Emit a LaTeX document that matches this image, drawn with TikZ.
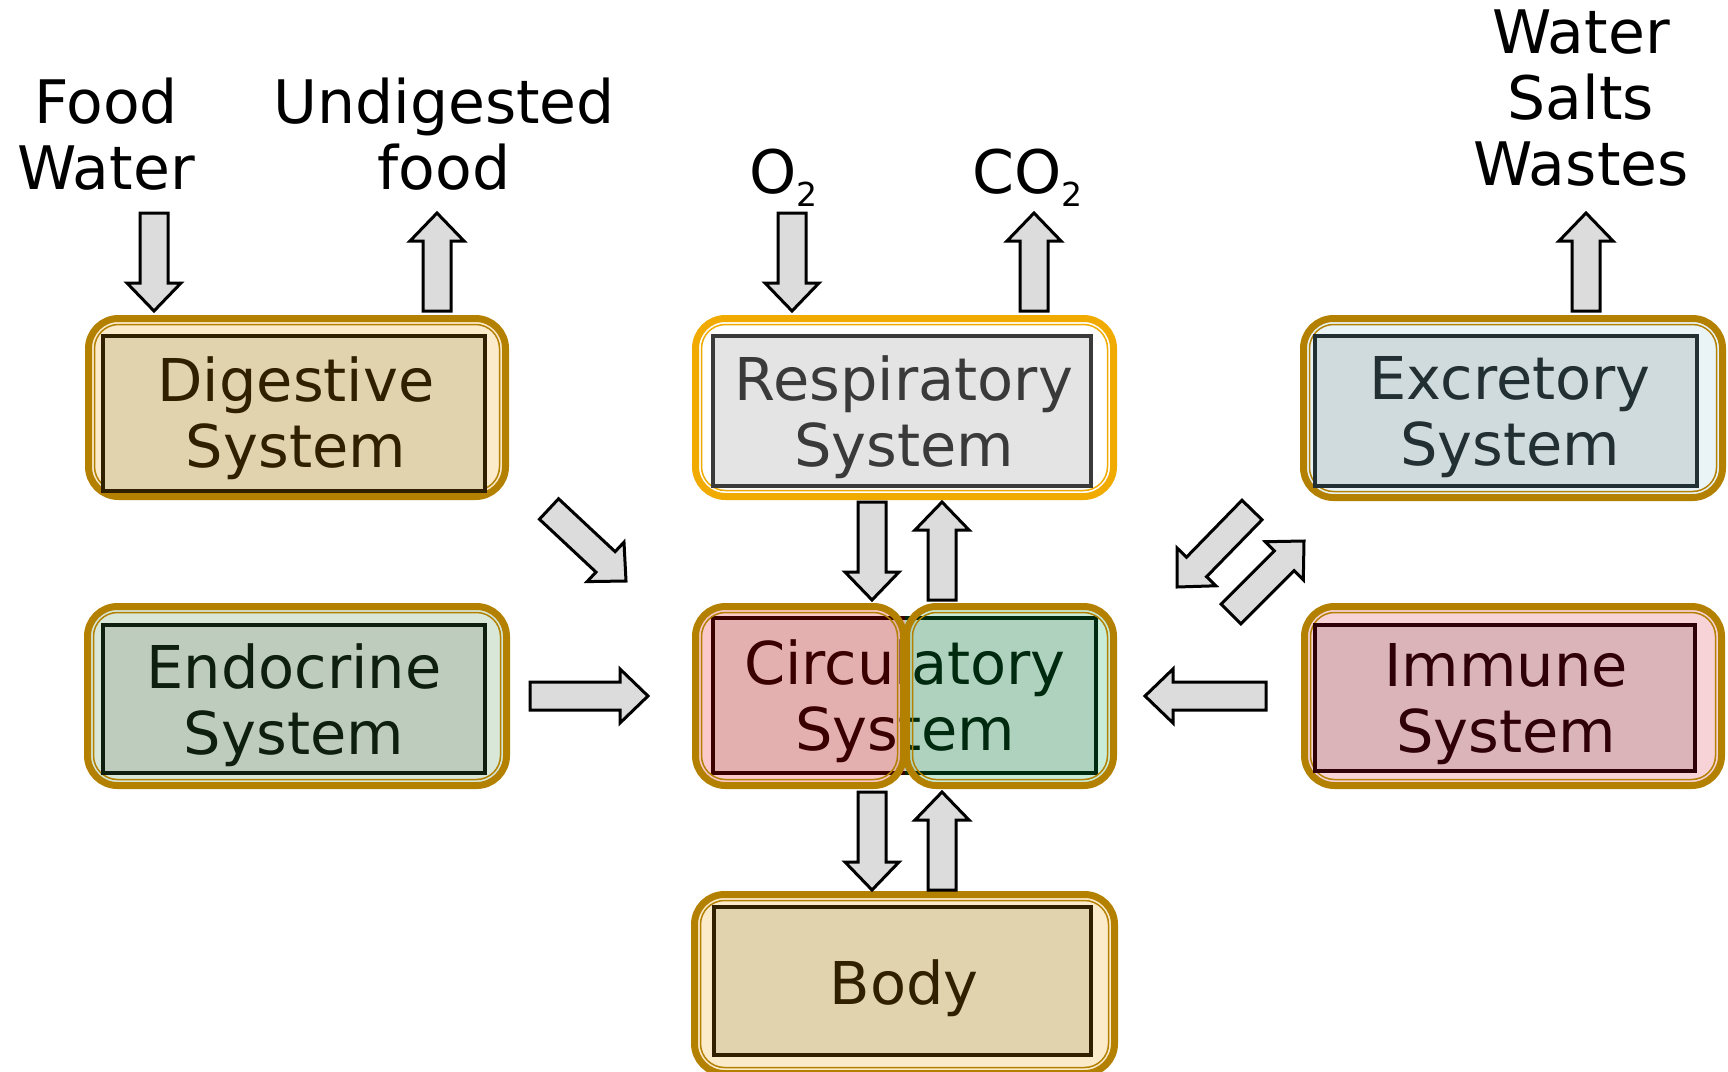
\documentclass[tikz,border=0pt]{standalone}
\usepackage{fontspec}
\setmainfont{DejaVu Sans}
\usetikzlibrary{calc}
\definecolor{gold}{HTML}{B38000}
\definecolor{orng}{HTML}{F0AA00}
\definecolor{arrgray}{HTML}{DCDCDC}
\definecolor{tanbg}{HTML}{FCEBCB}
\definecolor{tanin}{HTML}{E0D3AE}
\definecolor{tanbd}{HTML}{302000}
\definecolor{resin}{HTML}{E4E4E4}
\definecolor{resbd}{HTML}{3A3A3A}
\definecolor{endbg}{HTML}{D8E7D8}
\definecolor{endin}{HTML}{BDCCBD}
\definecolor{endbd}{HTML}{0F1F0F}
\definecolor{excbg}{HTML}{EAF4F6}
\definecolor{excin}{HTML}{D0DBDD}
\definecolor{excbd}{HTML}{233033}
\definecolor{immbg}{HTML}{F7D3D7}
\definecolor{immin}{HTML}{DBB4B9}
\definecolor{immbd}{HTML}{300008}
\definecolor{cLbg}{HTML}{FBC9C9}
\definecolor{cLin}{HTML}{E4AFAF}
\definecolor{cLbd}{HTML}{3A0000}
\definecolor{cRbg}{HTML}{C8ECD8}
\definecolor{cRin}{HTML}{AED2BE}
\definecolor{cRbd}{HTML}{002A10}
\newcommand\ringstroke[2]{%
  \draw[ringline, draw=#2] (#1.north west) rectangle (#1.south east);
  \draw[thinline, draw=#2] ([shift={(6,6)}]#1.north west) rectangle ([shift={(-6,-6)}]#1.south east);}
\newcommand\blockarrow[3]{%
  \coordinate (#3h) at ($(#2)!14pt!(#1)$);
  \draw[blockarr] ($(#1)!7pt!90:(#2)$) -- ($(#3h)!7pt!-90:(#1)$) -- ($(#3h)!13.5pt!-90:(#1)$) -- (#2)
    -- ($(#3h)!13.5pt!90:(#1)$) -- ($(#3h)!7pt!90:(#1)$) -- ($(#1)!7pt!-90:(#2)$) -- cycle;}
\begin{document}
\begin{tikzpicture}[x=0.5pt,y=-0.5pt,
  ringbg/.style={rounded corners=15pt, inner sep=0pt, outer sep=0pt, draw=none},
  ringline/.style={line width=3.5pt, rounded corners=15pt},
  thinline/.style={line width=0.75pt, rounded corners=12pt},
  inbox/.style={inner sep=0pt, outer sep=0pt, line width=2pt},
  boxlabel/.style={align=center, inner sep=0pt, font=\fontsize{29.5pt}{33pt}\selectfont},
  toplabel/.style={align=center, inner sep=0pt, text=black, font=\fontsize{30pt}{33pt}\selectfont},
  blockarr/.style={fill=arrgray, draw=black, line width=1.5pt, line join=miter}]
\fill[white] (0,0) rectangle (1728,1071);
\useasboundingbox (0,0) rectangle (1728,1071);

% ---------- Digestive
\node[ringbg, fill=tanbg, minimum width=208.5pt, minimum height=89pt] (dig) at (297,407.5) {};
\ringstroke{dig}{gold}
\node[inbox, fill=tanin, draw=tanbd, minimum width=191pt, minimum height=77.5pt] (digin) at (294,413.5) {};
\node[boxlabel, text=tanbd] (digtxt) at (296,418.5) {Digestive\\System};

% ---------- Respiratory
\node[ringbg, fill=white, minimum width=209pt, minimum height=89pt] (res) at (904.5,407.5) {};
\ringstroke{res}{orng}
\node[inbox, fill=resin, draw=resbd, minimum width=189pt, minimum height=75pt] (resin) at (902,411) {};
\node[boxlabel, text=resbd] (restxt) at (904,417) {Respiratory\\System};

% ---------- Excretory
\node[ringbg, fill=excbg, minimum width=209.5pt, minimum height=89.5pt] (exc) at (1513,408) {};
\ringstroke{exc}{gold}
\node[inbox, fill=excin, draw=excbd, minimum width=191pt, minimum height=75pt] (excin) at (1506,411) {};
\node[boxlabel, text=excbd] (exctxt) at (1510,417) {Excretory\\System};

% ---------- Endocrine
\node[ringbg, fill=endbg, minimum width=209.5pt, minimum height=89.5pt] (end) at (297,696) {};
\ringstroke{end}{gold}
\node[inbox, fill=endin, draw=endbd, minimum width=191pt, minimum height=74pt] (endin) at (294,699) {};
\node[boxlabel, text=endbd] (endtxt) at (294,705) {Endocrine\\System};

% ---------- Immune
\node[ringbg, fill=immbg, minimum width=208.5pt, minimum height=89.5pt] (imm) at (1513,696) {};
\ringstroke{imm}{gold}
\node[inbox, fill=immin, draw=immbd, minimum width=190pt, minimum height=73pt] (immin) at (1505,698) {};
\node[boxlabel, text=immbd] (immtxt) at (1506,704.5) {Immune\\System};

% ---------- Body
\node[ringbg, fill=tanbg, minimum width=210pt, minimum height=89.5pt] (body) at (904.5,984) {};
\ringstroke{body}{gold}
\node[inbox, fill=tanin, draw=tanbd, minimum width=188.5pt, minimum height=74pt] (bodyin) at (902.5,981) {};
\node[boxlabel, text=tanbd] (bodytxt) at (904,988.5) {Body};

% ---------- Circulatory (two halves)
\node[ringbg, fill=cLbg, minimum width=104pt, minimum height=89.5pt] (circL) at (799.5,696) {};
\node[ringbg, fill=cRbg, minimum width=103.5pt, minimum height=89.5pt] (circR) at (1010,696) {};
\begin{scope}
  \clip (600,580) rectangle (905,810);
  \node[inbox, fill=cLin, draw=cLbd, minimum width=191.5pt, minimum height=77.5pt] (circinL) at (904.5,695.5) {};
  \node[boxlabel, text=cLbd] (circtxtL) at (905,701) {Circulatory\\System};
\end{scope}
\begin{scope}
  \clip (905,580) rectangle (1200,810);
  \node[inbox, fill=cRin, draw=cRbd, minimum width=191.5pt, minimum height=77.5pt] (circinR) at (904.5,695.5) {};
  \node[boxlabel, text=cRbd] (circtxtR) at (905,701) {Circulatory\\System};
\end{scope}
\ringstroke{circL}{gold}
\ringstroke{circR}{gold}

% ---------- Top labels
\node[toplabel] (foodlbl) at (106,134) {Food\\Water};
\node[toplabel] (undlbl) at (444,134) {Undigested\\food};
\node[toplabel] (wswlbl) at (1581,98) {Water\\Salts\\Wastes};
\node[anchor=base west, inner sep=0pt, font=\fontsize{30pt}{33pt}\selectfont] (o2lbl) at (749,193)
  {O\raisebox{-6.5pt}{\fontsize{16.5pt}{16.5pt}\selectfont 2}};
\node[anchor=base west, inner sep=0pt, font=\fontsize{30pt}{33pt}\selectfont] (co2lbl) at (972,193)
  {CO\raisebox{-6.5pt}{\fontsize{16.5pt}{16.5pt}\selectfont 2}};

% ---------- Arrow end points
\coordinate (a1s) at (154,213);  \coordinate (a1e) at (154,311);
\coordinate (a2s) at (437,311);  \coordinate (a2e) at (437,213);
\coordinate (a3s) at (792,213);  \coordinate (a3e) at (792,311);
\coordinate (a4s) at (1034,311); \coordinate (a4e) at (1034,213);
\coordinate (a5s) at (1586,311); \coordinate (a5e) at (1586,213);
\coordinate (a6s) at (872,502);  \coordinate (a6e) at (872,600);
\coordinate (a7s) at (942,600);  \coordinate (a7e) at (942,502);
\coordinate (a8s) at (872,792);  \coordinate (a8e) at (872,890);
\coordinate (a9s) at (942,890);  \coordinate (a9e) at (942,792);
\coordinate (a10s) at (530,696); \coordinate (a10e) at (648,696);
\coordinate (a11s) at (1266,696); \coordinate (a11e) at (1145,696);
\coordinate (a12s) at (549,509); \coordinate (a12e) at (626,581);
\coordinate (a13s) at (1252,510); \coordinate (a13e) at (1177,587);
\coordinate (a14s) at (1231,614); \coordinate (a14e) at (1304,541);

\blockarrow{a1s}{a1e}{A1}
\blockarrow{a2s}{a2e}{A2}
\blockarrow{a3s}{a3e}{A3}
\blockarrow{a4s}{a4e}{A4}
\blockarrow{a5s}{a5e}{A5}
\blockarrow{a6s}{a6e}{A6}
\blockarrow{a7s}{a7e}{A7}
\blockarrow{a8s}{a8e}{A8}
\blockarrow{a9s}{a9e}{A9}
\blockarrow{a10s}{a10e}{A10}
\blockarrow{a11s}{a11e}{A11}
\blockarrow{a12s}{a12e}{A12}
\blockarrow{a13s}{a13e}{A13}
\blockarrow{a14s}{a14e}{A14}
\end{tikzpicture}
\end{document}
